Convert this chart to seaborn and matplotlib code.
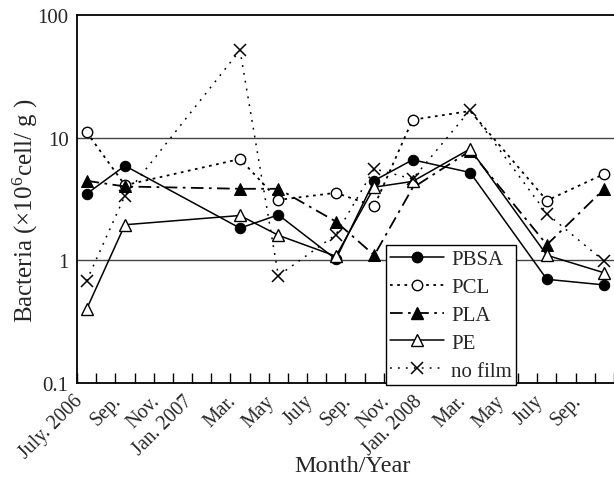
import matplotlib
matplotlib.use("Agg")
import matplotlib.pyplot as plt
from matplotlib.lines import Line2D
from matplotlib.ticker import FixedLocator, NullLocator
import seaborn as sns
import numpy as np

# ---- data (months since July 2006) ----
months = [0, 2, 8, 10, 13, 15, 17, 20, 24, 27]
pbsa = [3.48, 5.9, 1.83, 2.35, 1.02, 4.47, 6.6, 5.2, 0.70, 0.63]
pcl = [11.1, 4.1, 6.7, 3.11, 3.55, 2.77, 14.0, 16.5, 3.07, 5.07]
pla = [4.45, 4.0, 3.83, 3.83, 2.07, 1.1, 3.9, 7.8, 1.34, 3.83]
pe = [0.40, 1.95, 2.32, 1.6, 1.08, 3.95, 4.4, 8.1, 1.1, 0.79]
nofilm = [0.68, 3.37, 51.6, 0.75, 1.62, 5.57, 4.6, 16.8, 2.4, 0.98]

tick_pos = [0, 2, 4, 5.7, 8, 10, 12, 14, 16, 17.7, 20, 22, 24, 26]
tick_labels = ["July. 2006", "Sep.", "Nov.", "Jan. 2007", "Mar.", "May", "July",
               "Sep.", "Nov.", "Jan. 2008", "Mar.", "May", "July", "Sep."]

sns.set_style("white")
plt.rcParams["font.family"] = ["Liberation Serif", "DejaVu Serif"]
plt.rcParams["mathtext.fontset"] = "stix"

fig = plt.figure(figsize=(6.14, 4.81), dpi=100)
ax = fig.add_axes([0.1254, 0.2017, 0.8746, 0.765])

styles = [
    ("PBSA", pbsa, dict(color="black", lw=1.1, ls="-", marker="o", ms=7.5,
                        mfc="black", mec="black"), None),
    ("PCL", pcl, dict(color="black", lw=1.3, ls=(0, (1.5, 2.5)), marker="o", ms=7.5,
                      mfc="white", mec="black", mew=1.0), [0, 1, 2, 3, 4, 5, 6, 8, 9]),
    ("PLA", pla, dict(color="black", lw=1.3, ls=(0, (7, 3, 1.5, 3)), marker="^", ms=8.5,
                      mfc="black", mec="black"), [0, 1, 2, 3, 4, 5, 7, 8, 9]),
    ("PE", pe, dict(color="black", lw=1.1, ls="-", marker="^", ms=8.5,
                    mfc="white", mec="black", mew=1.0), None),
    ("no film", nofilm, dict(color="black", lw=1.1, ls=(0, (1.2, 4)), marker="x", ms=9,
                             mec="black", mew=1.1), None),
]

handles = []
for name, vals, kw, me in styles:
    extra = {} if me is None else {"markevery": me}
    sns.lineplot(x=months, y=vals, ax=ax, legend=False, **kw, **extra)
    handles.append(Line2D([], [], **kw))

ax.set_yscale("log")
ax.set_ylim(0.1, 100)
ax.set_xlim(-0.5, 27.5)

ax.axhline(1, color="#444444", lw=1.0, zorder=0.5)
ax.axhline(10, color="#444444", lw=1.0, zorder=0.5)

ax.yaxis.set_major_locator(FixedLocator([0.1, 1, 10, 100]))
ax.yaxis.set_minor_locator(NullLocator())
ax.set_yticklabels(["0.1", "1", "10", "100"])
ax.tick_params(axis="y", which="major", length=0, pad=6, labelsize=15)

ax.xaxis.set_major_locator(FixedLocator(tick_pos))
ax.set_xticklabels(tick_labels, rotation=45, ha="right")
ax.xaxis.set_minor_locator(FixedLocator(np.arange(-0.5, 28, 1.0)))
ax.tick_params(axis="x", which="major", length=0, pad=6, labelsize=14.3)
ax.tick_params(axis="x", which="minor", direction="in", length=7, width=1.0,
               color="black", bottom=True)

for side in ["left", "bottom", "top"]:
    ax.spines[side].set_visible(True)
    ax.spines[side].set_color("black")
    ax.spines[side].set_linewidth(1.3)
ax.spines["right"].set_visible(False)

ax.set_ylabel(r"Bacteria (×10$^{\mathregular{6}}$cell/ g )", fontsize=18)
ax.yaxis.set_label_coords(-0.068, 0.47)
ax.set_xlabel("Month/Year", fontsize=17.5)
ax.xaxis.set_label_coords((352 - 77) / 537, (384 - 467) / 368)
ax.xaxis.label.set_va("center")

leg = ax.legend(handles, [s[0] for s in styles], loc="lower left",
                bbox_to_anchor=(0.575, -0.005), borderaxespad=0, frameon=True,
                fancybox=False, edgecolor="black", framealpha=1, fontsize=15,
                handlelength=2.6, labelspacing=0.4, handletextpad=0.35,
                borderpad=0.2)
leg.get_frame().set_linewidth(1.0)

fig.savefig("out.png", dpi=100)
